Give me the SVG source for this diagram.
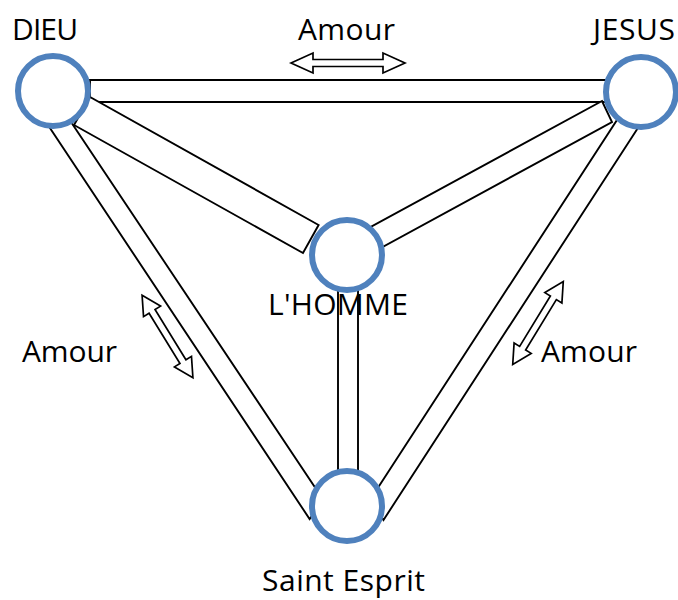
<svg xmlns="http://www.w3.org/2000/svg" width="678" height="600" viewBox="0 0 678 600">
  <style>
    .bar { fill: #ffffff; stroke: #000000; stroke-width: 1.9; stroke-linejoin: miter; }
    .node { fill: #ffffff; stroke: #4F81BD; stroke-width: 6; }
    .arrow { fill: #ffffff; stroke: #000000; stroke-width: 1.7; stroke-linejoin: miter; }
    .label { font-family: "Open Sans", "Liberation Sans", sans-serif; font-size: 30px; fill: #000000; }
  </style>
  <defs>
    <path id="arrowH" d="M -57,0 L -35,-10 L -35,-3.5 L 35,-3.5 L 35,-10 L 57,0 L 35,10 L 35,3.5 L -35,3.5 L -35,10 Z"/>
    <path id="arrowD" d="M -48.5,0 L -29.5,-10 L -29.5,-3.5 L 29.5,-3.5 L 29.5,-10 L 48.5,0 L 29.5,10 L 29.5,3.5 L -29.5,3.5 L -29.5,10 Z"/>
  </defs>

  <g id="connectors">
    <!-- DIEU - JESUS -->
    <polygon class="bar" points="90,80 640,80 640,102 90,102"/>
    <!-- DIEU - Saint Esprit -->
    <polygon class="bar" points="38,110 61,107 323.4,500 309.6,519"/>
    <!-- JESUS - Saint Esprit -->
    <polygon class="bar" points="649.6,110 623.5,110 370,500 383.5,520"/>
    <!-- L'HOMME - Saint Esprit -->
    <polygon class="bar" points="338,280 358,280 358,485 338,485"/>
    <!-- DIEU - L'HOMME -->
    <polygon class="bar" points="90,97 74,125 303,253 318.6,225"/>
    <!-- JESUS - L'HOMME -->
    <polygon class="bar" points="602,101 612,122 366,256 356,235"/>
    <!-- Amour arrows -->
    <use href="#arrowH" class="arrow" transform="translate(348,63)"/>
    <use href="#arrowD" class="arrow" transform="translate(167.5,336.5) rotate(58.4)"/>
    <use href="#arrowD" class="arrow" transform="translate(538,323) rotate(-58.6)"/>
  </g>

  <g id="dieu">
    <circle class="node" cx="53" cy="91" r="35"/>
    <text class="label" x="12" y="40" textLength="66">DIEU</text>
  </g>
  <g id="jesus">
    <circle class="node" cx="641" cy="92" r="35"/>
    <text class="label" x="593" y="40" textLength="82">JESUS</text>
  </g>
  <g id="homme">
    <circle class="node" cx="347" cy="255" r="35"/>
    <text class="label" x="268" y="315" textLength="140">L'HOMME</text>
  </g>
  <g id="saint-esprit">
    <circle class="node" cx="347" cy="506" r="35"/>
    <text class="label" x="262" y="591" textLength="163">Saint Esprit</text>
  </g>

  <g id="labels">
    <text class="label" x="298" y="40" textLength="97">Amour</text>
    <text class="label" x="22" y="362" textLength="95">Amour</text>
    <text class="label" x="541" y="362" textLength="96">Amour</text>
  </g>
</svg>
